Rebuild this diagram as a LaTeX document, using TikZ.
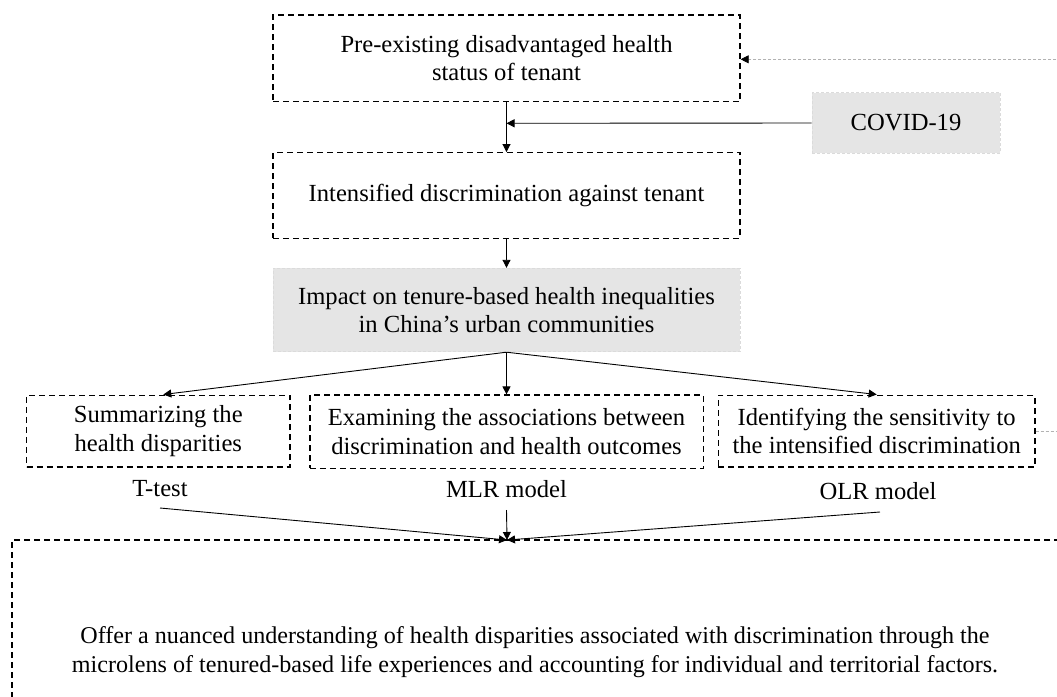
\documentclass[tikz,border=0pt]{standalone}
\usepackage{fontspec}
\setmainfont{Liberation Serif}
\usetikzlibrary{arrows.meta}
\begin{document}
\begin{tikzpicture}[x=1pt,y=-1pt,
  txt/.style={font=\fontsize{24.6}{28.3}\selectfont, align=center, inner sep=0pt},
  dbox/.style={txt, draw=black, line width=1.3pt, dash pattern=on 6pt off 4pt},
  gbox/.style={txt, fill=gray!20, draw=gray!28, line width=1pt, dash pattern=on 3pt off 2pt},
  arr/.style={-{Triangle[length=8pt,width=8pt]}, line width=0.9pt},
  fb/.style={draw=gray!60, line width=0.8pt, dash pattern=on 3pt off 2pt}
]
\useasboundingbox (0,0) rectangle (1057,696);
\fill[white] (0,0) rectangle (1057,696);

\node[dbox, minimum width=467pt, minimum height=86.7pt] (pre) at (506.5,58.3)
  {Pre-existing disadvantaged health\\status of tenant};
\node[dbox, minimum width=467pt, minimum height=85.6pt] (int) at (506.5,195.5)
  {Intensified discrimination against tenant};
\node[gbox, minimum width=188pt, minimum height=60.6pt] (covid) at (906,123)
  {COVID-19};
\node[gbox, minimum width=467pt, minimum height=83.4pt] (imp) at (506.5,310)
  {Impact on tenure-based health inequalities\\in China's urban communities};
\node[dbox, minimum width=263.3pt, minimum height=71.7pt] (sum) at (158.3,431)
  {Summarizing the\\health disparities};
\node[dbox, minimum width=393.3pt, minimum height=73.3pt] (exa) at (506.5,431.7)
  {Examining the associations between\\discrimination and health outcomes};
\node[dbox, minimum width=316.7pt, minimum height=71.7pt] (ide) at (876.7,431)
  {Identifying the sensitivity to\\the intensified discrimination};

\node[txt] (tt) at (160,489) {T-test};
\node[txt] (mlr) at (506.5,489) {MLR model};
\node[txt] (olr) at (878,491.5) {OLR model};

% bottom box (extends beyond the page)
\draw[line width=1.3pt, dash pattern=on 6pt off 4pt] (1080,540) -- (12,540) -- (12,720);
\coordinate (bt) at (507,540);
\node[txt, font=\fontsize{24.1}{29}\selectfont] (off) at (535,652.5)
  {Offer a nuanced understanding of health disparities associated with discrimination through the\\
   microlens of tenured-based life experiences and accounting for individual and territorial factors.};

% main flow
\coordinate (join) at (506.5,123.3);
\draw[arr] (pre.south) -- (int.north);
\draw[arr] (covid.west) -- (join);
\draw[arr] (int.south) -- (imp.north);
\draw[arr] (imp.south) -- ([xshift=5pt]sum.north);
\draw[arr] (imp.south) -- (exa.north);
\draw[arr] (imp.south) -- (ide.north);

\coordinate (ttb) at (160,508);
\coordinate (mlrb) at (506.5,510);
\coordinate (olrb) at (880,512);
\draw[arr] (ttb) -- (bt);
\draw[arr] (mlrb) -- (bt);
\draw[arr] (olrb) -- (bt);

% feedback loop (runs off the page on the right)
\coordinate (fbr) at (1075,431);
\coordinate (fbt) at (1075,59.3);
\draw[fb, -{Triangle[length=8pt,width=8pt,color=black]}] (ide.east) -- (fbr) -- (fbt) -- (pre.east |- fbt);
\end{tikzpicture}
\end{document}
